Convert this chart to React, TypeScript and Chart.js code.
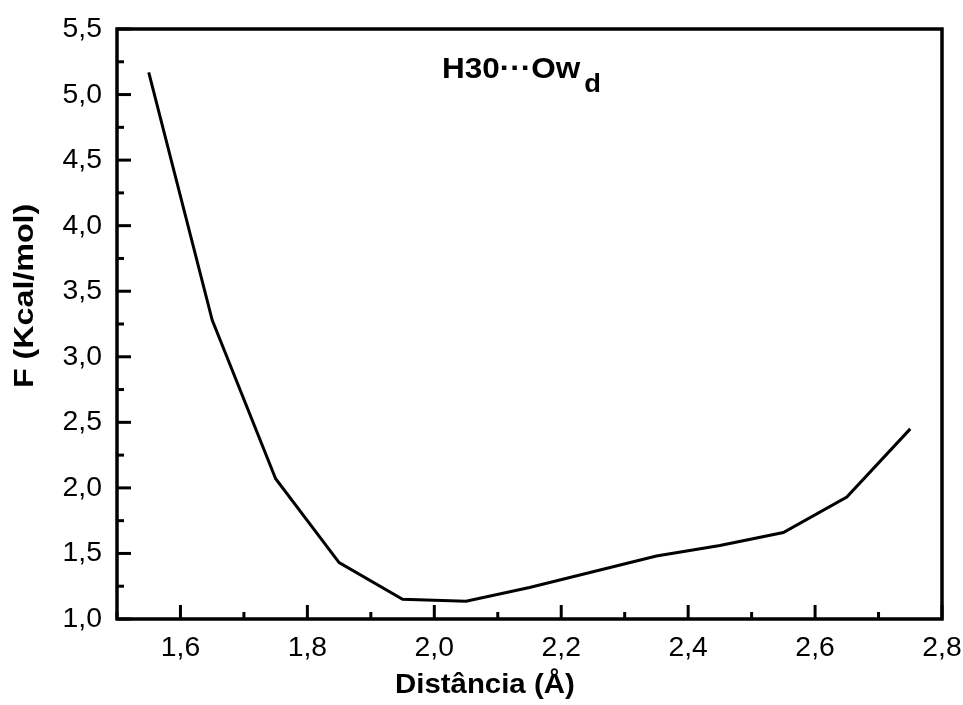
import React, { useEffect, useRef } from "react";
import { Chart, registerables } from "chart.js";

Chart.register(...registerables);

const distances = [1.55, 1.65, 1.75, 1.85, 1.95, 2.05, 2.15, 2.25, 2.35, 2.45, 2.55, 2.65, 2.75];
const energies = [5.17, 3.28, 2.07, 1.43, 1.15, 1.135, 1.24, 1.36, 1.48, 1.56, 1.66, 1.93, 2.45];
const xMajorTicks = [1.6, 1.8, 2.0, 2.2, 2.4, 2.6, 2.8];
const xMinorTicks = [1.5, 1.7, 1.9, 2.1, 2.3, 2.5, 2.7];
const yMajorTicks = [1.0, 1.5, 2.0, 2.5, 3.0, 3.5, 4.0, 4.5, 5.0, 5.5];
const yMinorTicks = [1.25, 1.75, 2.25, 2.75, 3.25, 3.75, 4.25, 4.75, 5.25];
const xTitle = "Distância (Å)";
const yTitle = "F (Kcal/mol)";
const annotationMain = "H30···Ow";
const annotationSub = "d";

const FONT = "'Liberation Sans', Arial, sans-serif";
const TICK_SIZE = 27;
const TITLE_SIZE = 28;
const ANN_SIZE = 30;
const SUB_SIZE = 26;

const fmt = (v: number) => v.toFixed(1).replace(".", ",");

function stretchedText(ctx: any, text: string, x: number, y: number, sx: number) {
  ctx.save();
  ctx.translate(x, y);
  ctx.scale(sx, 1);
  ctx.fillText(text, 0, 0);
  ctx.restore();
}

const framePlugin = {
  id: "frame",
  afterDraw(chart: any) {
    const { ctx, chartArea } = chart;
    const { left, right, top, bottom } = chartArea;
    const xs = chart.scales.x;
    const ys = chart.scales.y;
    ctx.save();
    ctx.strokeStyle = "#000";
    ctx.lineWidth = 3.5;
    ctx.lineCap = "square";
    ctx.strokeRect(left, top, right - left, bottom - top);
    ctx.lineWidth = 3;
    ctx.lineCap = "butt";
    const major = 14;
    const minor = 7;
    for (const v of xMajorTicks) {
      const x = xs.getPixelForValue(v);
      ctx.beginPath(); ctx.moveTo(x, bottom); ctx.lineTo(x, bottom - major); ctx.stroke();
    }
    for (const v of xMinorTicks) {
      const x = xs.getPixelForValue(v);
      ctx.beginPath(); ctx.moveTo(x, bottom); ctx.lineTo(x, bottom - minor); ctx.stroke();
    }
    for (const v of yMajorTicks) {
      const y = ys.getPixelForValue(v);
      ctx.beginPath(); ctx.moveTo(left, y); ctx.lineTo(left + major, y); ctx.stroke();
    }
    for (const v of yMinorTicks) {
      const y = ys.getPixelForValue(v);
      ctx.beginPath(); ctx.moveTo(left, y); ctx.lineTo(left + minor, y); ctx.stroke();
    }
    // tick labels
    ctx.fillStyle = "#000";
    ctx.font = `${TICK_SIZE}px ${FONT}`;
    ctx.textBaseline = "alphabetic";
    ctx.textAlign = "right";
    for (const v of yMajorTicks) {
      stretchedText(ctx, fmt(v), left - 15, ys.getPixelForValue(v) + 8, 1.05);
    }
    ctx.textAlign = "center";
    for (const v of xMajorTicks) {
      stretchedText(ctx, fmt(v), xs.getPixelForValue(v), bottom + 37, 1.05);
    }
    // axis titles
    ctx.font = `bold ${TITLE_SIZE}px ${FONT}`;
    ctx.textAlign = "left";
    ctx.textBaseline = "alphabetic";
    stretchedText(ctx, xTitle, 395, 693, 1.05);
    ctx.save();
    ctx.translate(33, 388);
    ctx.rotate(-Math.PI / 2);
    ctx.scale(1.15, 1);
    ctx.fillText(yTitle, 0, 0);
    ctx.restore();
    // annotation
    ctx.font = `bold ${ANN_SIZE}px ${FONT}`;
    ctx.textAlign = "left";
    ctx.textBaseline = "alphabetic";
    const sx = 1.05;
    stretchedText(ctx, annotationMain, 442, 78, sx);
    const w = ctx.measureText(annotationMain).width * sx;
    ctx.font = `bold ${SUB_SIZE}px ${FONT}`;
    stretchedText(ctx, annotationSub, 442 + w + 4, 92, 1.05);
    ctx.restore();
  },
};

export default function App() {
  const ref = useRef<HTMLCanvasElement | null>(null);
  useEffect(() => {
    document.body.style.margin = "0";
    const canvas = ref.current;
    if (!canvas) return;
    const chart = new Chart(canvas, {
      type: "line",
      data: {
        datasets: [
          {
            data: distances.map((d, i) => ({ x: d, y: energies[i] })),
            borderColor: "#000",
            borderWidth: 3,
            pointRadius: 0,
            tension: 0,
            fill: false,
          },
        ],
      },
      options: {
        animation: false,
        responsive: false,
        events: [],
        layout: { padding: { top: 29, right: 21, left: 0, bottom: 0 } },
        plugins: { legend: { display: false }, tooltip: { enabled: false } },
        scales: {
          x: {
            type: "linear",
            min: 1.5,
            max: 2.8,
            grid: { display: false },
            border: { display: false },
            ticks: { display: false },
            afterFit: (s: any) => { s.height = 705 - 619; },
          },
          y: {
            type: "linear",
            min: 1.0,
            max: 5.5,
            grid: { display: false },
            border: { display: false },
            ticks: { display: false },
            afterFit: (s: any) => { s.width = 117; },
          },
        },
      },
      plugins: [framePlugin],
    });
    return () => chart.destroy();
  }, []);
  return (
    <div style={{ width: 963, height: 705, background: "#fff" }}>
      <canvas ref={ref} width={963} height={705} style={{ display: "block" }} />
    </div>
  );
}
